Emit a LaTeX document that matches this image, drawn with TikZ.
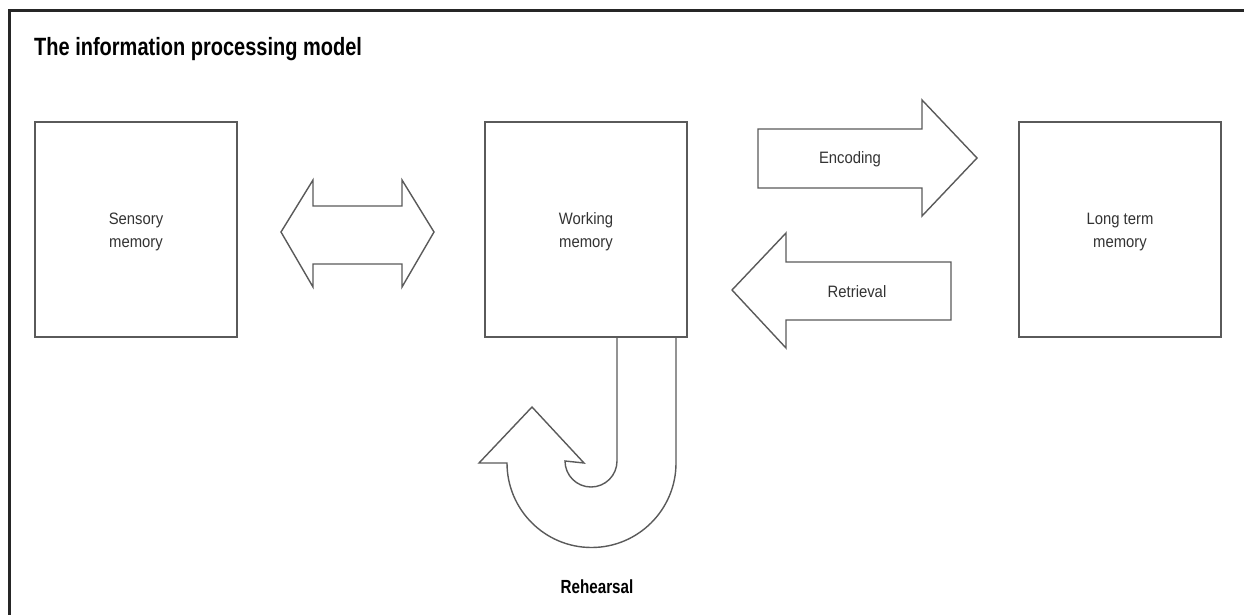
\documentclass[tikz,border=0pt]{standalone}
\usepackage{fontspec}
\setmainfont{Liberation Sans}[FakeStretch=0.9]
\newfontfamily\boldcond{Liberation Sans}[FakeStretch=0.8]
\begin{document}
\begin{tikzpicture}[x=1pt,y=-1pt,
  mem/.style={draw=lineg,line width=1.4pt,minimum width=202pt,minimum height=215pt,inner sep=0pt,
    align=center,font=\fontsize{16.5}{23}\selectfont,text=txtg},
  blk/.style={draw=lineg,line width=1.4pt,line join=miter},
  lbl/.style={font=\fontsize{16.5}{23}\selectfont,text=txtg,inner sep=0pt},
  ttl/.style={font=\boldcond\bfseries\fontsize{25}{30}\selectfont,text=black,inner sep=0pt}]
\definecolor{lineg}{HTML}{5A5A5A}
\definecolor{txtg}{HTML}{333333}
\useasboundingbox (0,0) rectangle (1244,615);
\fill[white] (0,0) rectangle (1244,615);
% frame (top and left only)
\draw[line width=3pt,draw=black!85] (9,615) -- (9,11) -- (1244,11);
% title
\node[ttl,anchor=west] (title) at (34,49) {The information processing model};
% boxes
\node[mem] (sens) at (136,229.5) {};
\node[mem] (work) at (586,229.5) {};
\node[mem] (ltm) at (1120,229.5) {};
\node[lbl,align=center] (senst) at (136,232) {Sensory\\memory};
\node[lbl,align=center] (workt) at (586,232) {Working\\memory};
\node[lbl,align=center] (ltmt) at (1120,232) {Long term\\memory};
% double arrow
\draw[blk] (281,232) -- (313,180) -- (313,206) -- (402,206) -- (402,180) -- (434,232)
  -- (402,287) -- (402,264) -- (313,264) -- (313,287) -- cycle;
% encoding
\draw[blk] (758,129) -- (922,129) -- (922,100) -- (977,158) -- (922,216) -- (922,188) -- (758,188) -- cycle;
\node[lbl] (enc) at (850,159) {Encoding};
% retrieval
\draw[blk] (951,262) -- (786,262) -- (786,233) -- (732,290) -- (786,348) -- (786,320) -- (951,320) -- cycle;
\node[lbl] (ret) at (857,292) {Retrieval};
% rehearsal
\draw[blk] (617,337) -- (617,461) arc[start angle=0,end angle=-180,radius=26pt]
  -- (584,463) -- (532,407) -- (479,463) -- (507,463)
  arc[start angle=180,end angle=360,radius=84.5pt] -- (676,337);
\node[ttl,font=\boldcond\bfseries\fontsize{19}{22}\selectfont] (reh) at (597,587) {Rehearsal};
\end{tikzpicture}
\end{document}
